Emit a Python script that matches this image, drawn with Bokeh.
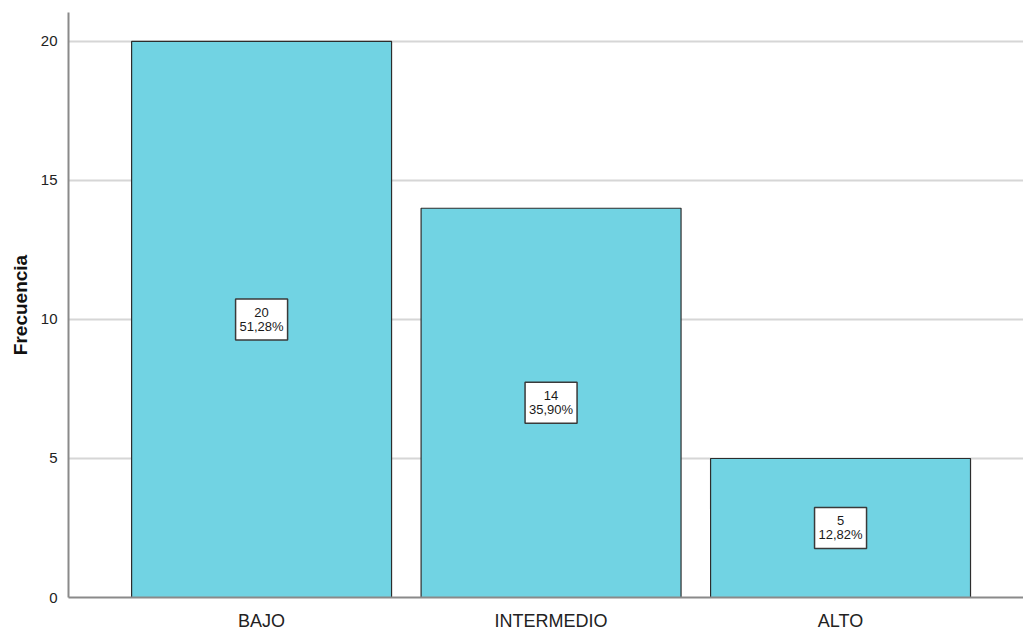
from bokeh.plotting import figure
from bokeh.models import ColumnDataSource, FixedTicker, Range1d
from bokeh.core.properties import value
from bokeh.embed import file_html
from bokeh.resources import INLINE

# Frequency table
categories = ["BAJO", "INTERMEDIO", "ALTO"]
counts = [20, 14, 5]
percent_labels = ["51,28%", "35,90%", "12,82%"]
y_ticks = [0, 5, 10, 15, 20]

positions = [1, 2, 3]
src = ColumnDataSource(dict(
    x=positions,
    top=counts,
    mid=[c / 2 for c in counts],
    count_txt=[str(c) for c in counts],
    pct_txt=percent_labels,
))

FONT = "Liberation Sans"

p = figure(
    width=1023, height=633,
    output_backend="svg", toolbar_location=None,
    x_range=Range1d(0.333, 3.632), y_range=Range1d(0, 21.04),
    min_border_left=68, min_border_right=0, min_border_top=12, min_border_bottom=36,
)
p.outline_line_color = None
p.background_fill_color = "white"
p.border_fill_color = "white"

# bars
p.vbar(x="x", top="top", bottom=0, width=0.898, source=src,
       fill_color="#71d3e3", line_color="#2d2d2d", line_width=1.2)

# value boxes in the middle of each bar
p.rect(x="x", y="mid", width=52, height=41, width_units="screen", height_units="screen",
       source=src, fill_color="white", line_color="#3a3a3a", line_width=1.5)
p.text(x="x", y="mid", text="count_txt", source=src, y_offset=-7,
       text_align="center", text_baseline="middle", text_font=value(FONT),
       text_font_size="13px", text_color="#1a1a1a")
p.text(x="x", y="mid", text="pct_txt", source=src, y_offset=7,
       text_align="center", text_baseline="middle", text_font=value(FONT),
       text_font_size="13px", text_color="#1a1a1a")

# grid
p.xgrid.grid_line_color = None
p.ygrid.ticker = FixedTicker(ticks=y_ticks[1:])
p.ygrid.grid_line_color = "#d6d6d6"
p.ygrid.grid_line_width = 2
p.ygrid.level = "underlay"

# y axis
p.yaxis.ticker = FixedTicker(ticks=y_ticks)
p.yaxis.axis_label = "Frecuencia"
p.yaxis.axis_label_text_font = FONT
p.yaxis.axis_label_text_font_style = "bold"
p.yaxis.axis_label_text_font_size = "19px"
p.yaxis.axis_label_text_color = "#111111"
p.yaxis.axis_label_standoff = 7
p.yaxis.major_label_text_font = FONT
p.yaxis.major_label_text_font_size = "15px"
p.yaxis.major_label_text_color = "#222222"
p.yaxis.major_label_standoff = 5
p.yaxis.major_tick_line_color = None
p.yaxis.minor_tick_line_color = None
p.yaxis.axis_line_color = "#8a8a8a"
p.yaxis.axis_line_width = 2

# x axis
p.xaxis.ticker = FixedTicker(ticks=positions)
p.xaxis.major_label_overrides = {pos: cat for pos, cat in zip(positions, categories)}
p.xaxis.major_label_text_font = FONT
p.xaxis.major_label_text_font_size = "18px"
p.xaxis.major_label_text_color = "#222222"
p.xaxis.major_label_standoff = 7
p.xaxis.major_tick_line_color = None
p.xaxis.minor_tick_line_color = None
p.xaxis.axis_line_color = "#8a8a8a"
p.xaxis.axis_line_width = 2

open("out.html", "w").write(file_html(p, INLINE))
